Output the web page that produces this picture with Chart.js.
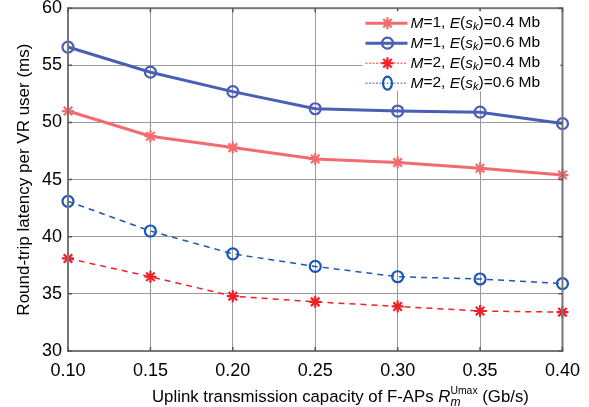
<!DOCTYPE html>
<html>
<head>
<meta charset="utf-8">
<script src="https://cdn.jsdelivr.net/npm/chart.js@4/dist/chart.umd.min.js"></script>
<style>
  html, body { margin: 0 ; padding: 0 ; background: #ffffff ; }
  #wrap { width: 589px ; height: 407px ; }
</style>
</head>
<body>
<div id="wrap"><canvas id="latencyChart" width="589" height="407"></canvas></div>
<script>

    const FONT_FAMILY   = "'Liberation Sans', Arial, sans-serif" ;
    const RED_SOLID     = '#F26B6E' ;
    const BLUE_SOLID    = '#4A5FB4' ;
    const RED_DASHED    = '#EE2128' ;
    const BLUE_DASHED   = '#1D57B5' ;
    const GRID_COLOR    = '#9A9A9A' ;
    const FRAME_COLOR   = '#777777' ;

    // ---------------- Data -------------------------------------------------
    const xLabels   = [ '0.10', '0.15', '0.20', '0.25', '0.30', '0.35', '0.40' ] ;
    const yTicks    = [ 30, 35, 40, 45, 50, 55, 60 ] ;

    const m1Small   = [ 51.0, 48.8, 47.8, 46.8, 46.5, 46.0, 45.4 ] ;
    const m1Large   = [ 56.6, 54.4, 52.7, 51.2, 51.0, 50.9, 49.9 ] ;
    const m2Small   = [ 38.1, 36.5, 34.8, 34.3, 33.9, 33.5, 33.4 ] ;
    const m2Large   = [ 43.1, 40.5, 38.5, 37.4, 36.5, 36.3, 35.9 ] ;

    const mValues     = [ '1', '1', '2', '2' ] ;
    const sizeValues  = [ '0.4', '0.6', '0.4', '0.6' ] ;

    const yTitle = 'Round-trip latency per VR user (ms)' ;

    // ---------------- Helpers ----------------------------------------------

    function legendSegments( i ) {
        return [
            { t: 'M', it: true },
            { t: '=' + mValues[i] + ', ' },
            { t: 'E', it: true },
            { t: '(' },
            { t: 's', it: true },
            { t: 'k', it: true, sub: true },
            { t: ')=' + sizeValues[i] + ' Mb' }
        ] ;
    }

    function drawRich( ctx, segs, x, y, size ) {
        var cx = x ;
        for( var i=0; i<segs.length; i++ ) {
            var s = segs[i] ;
            var fs = size ;
            var dy = 0 ;
            if( s.sub ) { fs = size * 0.72 ; dy = size * 0.22 ; }
            if( s.sup ) { fs = size * 0.62 ; dy = -size * 0.45 ; }
            ctx.font = ( s.it ? 'italic ' : '' ) + fs + 'px ' + FONT_FAMILY ;
            ctx.fillText( s.t, cx, y + dy ) ;
            if( !s.noAdvance ) {
                cx += ctx.measureText( s.t ).width ;
            }
        }
        return cx ;
    }

    function makeSet( label, data, color, width, dash, style, radius ) {
        return {
            label                : label,
            data                 : data,
            borderColor          : color,
            backgroundColor      : color,
            borderWidth          : width,
            borderDash           : dash,
            tension              : 0,
            fill                 : false,
            pointStyle           : style,
            pointRadius          : radius,
            pointBorderWidth     : 2.2,
            pointBorderColor     : color,
            pointBackgroundColor : style == 'circle' ? 'rgba(0,0,0,0)' : color,
        } ;
    }

    const datasets = [
        makeSet( 'M=1, E(sk)=0.4 Mb', m1Small, RED_SOLID,   3,   [],     'star',   6 ),
        makeSet( 'M=1, E(sk)=0.6 Mb', m1Large, BLUE_SOLID,  3,   [],     'circle', 5.5 ),
        makeSet( 'M=2, E(sk)=0.4 Mb', m2Small, RED_DASHED,  1.5, [ 6, 5 ], 'star',   6 ),
        makeSet( 'M=2, E(sk)=0.6 Mb', m2Large, BLUE_DASHED, 1.5, [ 6, 5 ], 'circle', 5.5 ),
    ] ;

    // ---------------- Frame, legend and x title ----------------------------

    const decorPlugin = {
        id: 'decor',
        afterDraw: function( chart ) {
            const ctx = chart.ctx ;
            const a = chart.chartArea ;
            ctx.save() ;

            // box frame
            ctx.strokeStyle = FRAME_COLOR ;
            ctx.lineWidth = 2 ;
            ctx.strokeRect( a.left, a.top, a.right - a.left, a.bottom - a.top ) ;

            // small inward ticks like the original
            ctx.lineWidth = 1.5 ;
            ctx.strokeStyle = '#555555' ;
            const xs = chart.scales.x ;
            const ys = chart.scales.y ;
            for( var i=0; i<xLabels.length; i++ ) {
                var px = xs.getPixelForValue( i ) ;
                ctx.beginPath() ;
                ctx.moveTo( px, a.bottom ) ; ctx.lineTo( px, a.bottom - 4 ) ;
                ctx.moveTo( px, a.top ) ;    ctx.lineTo( px, a.top + 4 ) ;
                ctx.stroke() ;
            }
            for( var j=0; j<yTicks.length; j++ ) {
                var py = ys.getPixelForValue( yTicks[j] ) ;
                ctx.beginPath() ;
                ctx.moveTo( a.left, py ) ;  ctx.lineTo( a.left + 4, py ) ;
                ctx.moveTo( a.right, py ) ; ctx.lineTo( a.right - 4, py ) ;
                ctx.stroke() ;
            }

            // legend
            const lx = a.right - 200 ;
            const ly = a.top + 3 ;
            ctx.fillStyle = '#ffffff' ;
            ctx.fillRect( lx, ly, 198, 80 ) ;
            ctx.textBaseline = 'middle' ;
            ctx.textAlign = 'left' ;
            for( var k=0; k<datasets.length; k++ ) {
                var ds = datasets[k] ;
                var rowY = ly + 12 + k * 20 ;
                ctx.strokeStyle = ds.borderColor ;
                if( k < 2 ) {
                    ctx.lineWidth = 3 ;
                    ctx.setLineDash( [] ) ;
                } else {
                    ctx.lineWidth = 1.5 ;
                    ctx.setLineDash( [ 2, 1.5 ] ) ;
                    ctx.globalAlpha = 0.6 ;
                }
                ctx.beginPath() ;
                ctx.moveTo( lx + 3, rowY ) ;
                ctx.lineTo( lx + 45, rowY ) ;
                ctx.stroke() ;
                ctx.globalAlpha = 1 ;
                ctx.setLineDash( [] ) ;
                ctx.lineWidth = 2.2 ;
                ctx.fillStyle = ( ds.pointStyle == 'star' ) ? ds.borderColor : 'rgba(0,0,0,0)' ;
                var r = ( k == 3 ) ? 6.5 : ds.pointRadius ;
                Chart.helpers.drawPointLegend( ctx, {
                    pointStyle  : ds.pointStyle,
                    rotation    : 0,
                    borderWidth : 2.2,
                    radius      : r,
                }, lx + 25, rowY, ( k == 3 ) ? 9 : null ) ;
                ctx.fillStyle = '#000000' ;
                drawRich( ctx, legendSegments( k ), lx + 48, rowY, 15.5 ) ;
            }

            // x title
            ctx.fillStyle = '#000000' ;
            ctx.textBaseline = 'alphabetic' ;
            const xtSegs = [
                { t: 'Uplink transmission capacity of F-APs ' },
                { t: 'R', it: true },
                { t: 'm', it: true, sub: true, noAdvance: true },
                { t: 'Umax', sup: true },
                { t: ' (Gb/s)' }
            ] ;
            drawRich( ctx, xtSegs, 152, 402, 16.8 ) ;

            ctx.restore() ;
        }
    } ;

    // ---------------- Chart ------------------------------------------------

    const ctx = document.getElementById( 'latencyChart' ) ;

    new Chart( ctx, {
        type: 'line',
        data: {
            labels: xLabels,
            datasets: datasets
        },
        options: {
            responsive: false,
            animation: false,
            devicePixelRatio: 1,
            layout: {
                padding: { left: 0, right: 26, top: 8, bottom: 0 }
            },
            plugins: {
                legend: { display: false },
                tooltip: { enabled: false }
            },
            scales: {
                x: {
                    type: 'category',
                    offset: false,
                    afterFit: function( scale ) { scale.height = 56 ; },
                    grid: { color: GRID_COLOR, lineWidth: 1, drawTicks: false },
                    border: { display: false },
                    ticks: {
                        color: '#000000',
                        padding: 9,
                        maxRotation: 0,
                        autoSkip: false,
                        font: { family: FONT_FAMILY, size: 18 }
                    }
                },
                y: {
                    min: 30,
                    max: 60,
                    afterFit: function( scale ) {
                        scale.width = 68 ;
                        scale.paddingTop = 0 ;
                        scale.paddingBottom = 0 ;
                    },
                    afterBuildTicks: function( scale ) {
                        scale.ticks = yTicks.map( function( v ) { return { value: v } ; } ) ;
                    },
                    grid: { color: GRID_COLOR, lineWidth: 1, drawTicks: false },
                    border: { display: false },
                    title: {
                        display: true,
                        text: yTitle,
                        color: '#000000',
                        padding: { top: 14, bottom: 4 },
                        font: { family: FONT_FAMILY, size: 17 }
                    },
                    ticks: {
                        color: '#000000',
                        padding: 6,
                        font: { family: FONT_FAMILY, size: 18 }
                    }
                }
            }
        },
        plugins: [ decorPlugin ]
    } ) ;

</script>
</body>
</html>
